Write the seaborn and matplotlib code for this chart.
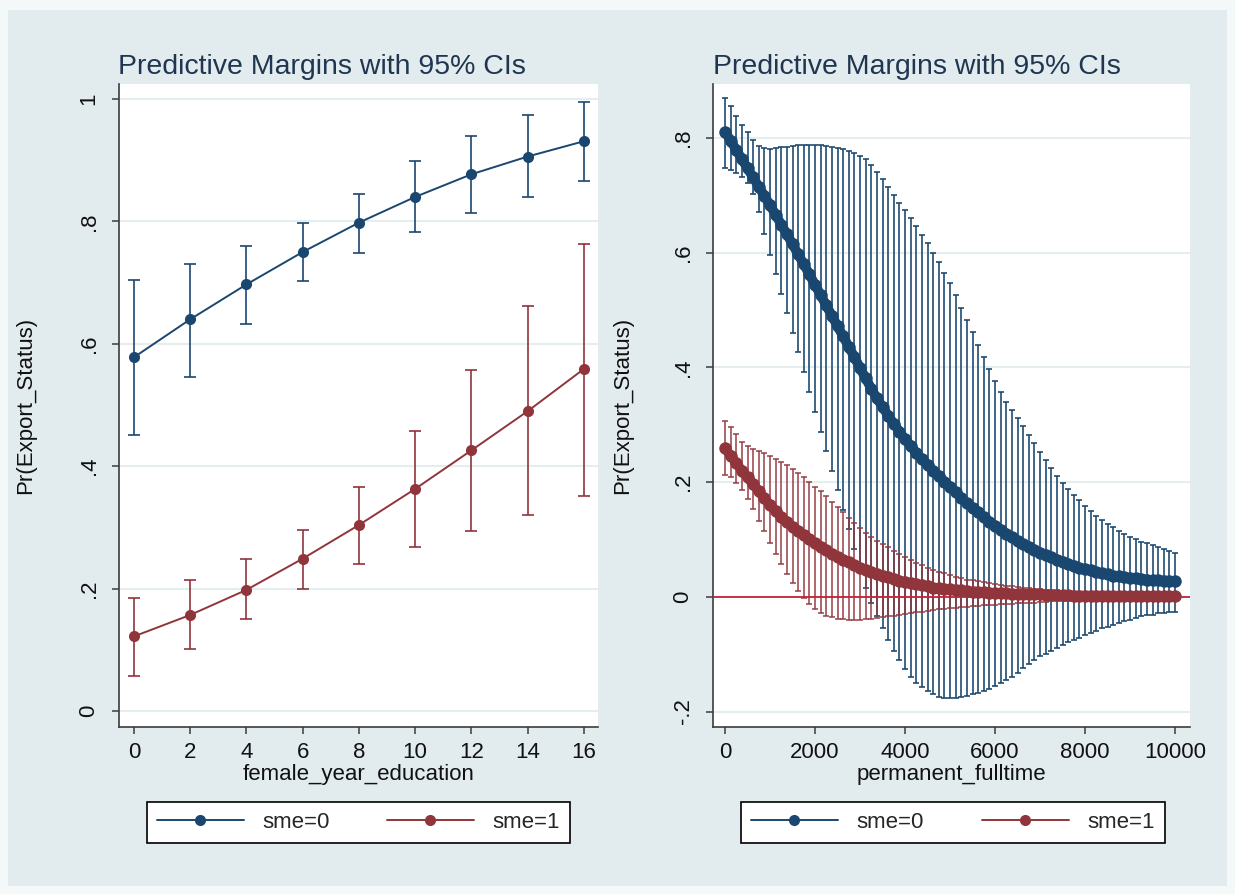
import matplotlib
matplotlib.use('Agg')
import matplotlib.pyplot as plt
from matplotlib.lines import Line2D
from matplotlib.patches import Rectangle
import numpy as np
import pandas as pd
import seaborn as sns

# left panel: margins over female_year_education
edu_years = [0, 2, 4, 6, 8, 10, 12, 14, 16]
edu_m0 = [.578, .640, .697, .750, .798, .840, .877, .906, .931]
edu_lo0 = [.451, .546, .632, .703, .749, .782, .813, .840, .866]
edu_hi0 = [.704, .731, .760, .797, .845, .898, .940, .974, .995]
edu_m1 = [.122, .157, .198, .249, .304, .363, .426, .490, .559]
edu_lo1 = [.058, .101, .151, .200, .240, .268, .295, .321, .352]
edu_hi1 = [.184, .214, .248, .296, .366, .457, .557, .661, .763]

# right panel: margins over permanent_fulltime (0 to 10000 by 125)
pft = list(range(0, 10001, 125))
pft_m0 = [.811, .795, .779, .763, .747, .731, .715, .699, .683,
          .666, .649, .632, .615, .597, .580, .562, .544,
          .526, .508, .490, .472, .454, .436, .418, .399,
          .381, .363, .346, .331, .316, .302, .288, .275,
          .263, .251, .240, .230, .220, .211, .201, .192,
          .182, .173, .163, .155, .147, .139, .131, .124,
          .117, .110, .104, .098, .092, .087, .082, .077,
          .073, .069, .065, .061, .057, .054, .051, .048,
          .046, .043, .041, .039, .037, .036, .034, .033,
          .032, .031, .030, .029, .029, .028, .028, .027]
pft_hi0 = [.870, .855, .838, .823, .811, .797, .786, .782, .781,
           .782, .784, .785, .786, .787, .788, .788, .788,
           .787, .786, .785, .783, .780, .777, .773, .769,
           .763, .752, .740, .728, .715, .701, .687, .674,
           .660, .647, .631, .616, .600, .583, .565, .547,
           .526, .504, .482, .461, .439, .418, .397, .376,
           .357, .339, .325, .311, .297, .282, .268, .253,
           .238, .224, .210, .199, .188, .178, .168, .158,
           .149, .141, .134, .127, .121, .115, .110, .105,
           .100, .096, .093, .090, .087, .084, .080, .077]
pft_lo0 = [.748, .744, .739, .732, .722, .702, .670, .632, .596,
           .562, .528, .494, .460, .426, .392, .357, .322,
           .288, .254, .220, .186, .152, .118, .084, .050,
           .016, -.010, -.033, -.055, -.076, -.094, -.111, -.126,
           -.139, -.150, -.158, -.165, -.170, -.174, -.176, -.177,
           -.177, -.175, -.173, -.170, -.167, -.164, -.160, -.155,
           -.150, -.145, -.139, -.132, -.125, -.118, -.111, -.104,
           -.099, -.094, -.089, -.084, -.079, -.075, -.071, -.067,
           -.063, -.059, -.055, -.052, -.049, -.046, -.043, -.040,
           -.037, -.034, -.032, -.031, -.029, -.028, -.027, -.026]
pft_m1 = [.259, .246, .233, .220, .208, .196, .184, .172, .160,
          .149, .139, .130, .122, .114, .107, .100, .093,
          .087, .081, .075, .070, .065, .060, .055, .051,
          .047, .043, .040, .037, .034, .031, .028, .026,
          .024, .022, .020, .018, .016, .015, .014, .013,
          .012, .011, .010, .009, .009, .008, .007, .007,
          .006, .006, .005, .005, .005, .004, .004, .004,
          .003, .003, .003, .003, .003, .002, .002, .002,
          .002, .002, .002, .002, .001, .001, .001, .001,
          .001, .001, .001, .001, .001, .001, .001, .001]
pft_hi1 = [.306, .296, .283, .270, .263, .258, .254, .250, .246,
           .241, .235, .229, .222, .215, .208, .200, .192,
           .184, .175, .165, .156, .147, .137, .128, .120,
           .112, .105, .098, .092, .086, .080, .074, .069,
           .064, .059, .055, .051, .047, .044, .041, .038,
           .035, .033, .030, .029, .027, .025, .024, .022,
           .021, .019, .018, .017, .016, .015, .014, .013,
           .012, .012, .011, .010, .010, .009, .009, .008,
           .008, .008, .007, .007, .007, .006, .006, .006,
           .006, .005, .005, .005, .005, .005, .004, .004]
pft_lo1 = [.212, .208, .199, .187, .171, .153, .133, .114, .094,
           .075, .057, .040, .024, .010, -.002, -.013, -.021,
           -.028, -.033, -.036, -.038, -.039, -.040, -.040, -.040,
           -.039, -.038, -.037, -.036, -.034, -.033, -.031, -.030,
           -.029, -.027, -.026, -.024, -.023, -.022, -.021, -.020,
           -.019, -.018, -.017, -.016, -.016, -.015, -.014, -.014,
           -.013, -.012, -.012, -.011, -.011, -.010, -.010, -.009,
           -.009, -.008, -.008, -.008, -.007, -.007, -.007, -.006,
           -.006, -.006, -.005, -.005, -.005, -.005, -.004, -.004,
           -.004, -.004, -.004, -.003, -.003, -.003, -.003, -.003]

groups = ['sme=0', 'sme=1']
NAVY = '#1a476f'
MAROON = '#90353b'
kolory = [NAVY, MAROON]
BG = '#e2ecee'

sns.set_style('white')
plt.rcParams['font.family'] = ['Liberation Sans', 'DejaVu Sans']

W, H = 1235, 894
fig = plt.figure(figsize=(W / 100, H / 100), dpi=100)
fig.patch.set_facecolor('#f4f8f9')
fig.add_artist(Rectangle((8 / W, 8 / H), 1219 / W, 876 / H, transform=fig.transFigure,
                         facecolor=BG, edgecolor='none', zorder=-10))

ax1 = fig.add_axes([119 / W, 167 / H, 479 / W, 643 / H])
ax2 = fig.add_axes([713 / W, 167 / H, 477 / W, 643 / H])


def rysuj(ax, x, serie, msize, lw, elw, caps, alfy):
    for i, (m, lo, hi) in enumerate(serie):
        m = np.array(m)
        ax.errorbar(x, m, yerr=[m - np.array(lo), np.array(hi) - m], fmt='none',
                    ecolor=kolory[i], elinewidth=elw, capsize=caps, capthick=elw,
                    alpha=alfy[i], zorder=2 + i)
    for i, (m, lo, hi) in enumerate(serie):
        df = pd.DataFrame({'x': x, 'y': m})
        sns.lineplot(data=df, x='x', y='y', color=kolory[i], marker='o',
                     markersize=msize, markeredgecolor=kolory[i], markeredgewidth=0,
                     linewidth=lw, ax=ax, zorder=5 + i)


rysuj(ax1, edu_years,
      [(edu_m0, edu_lo0, edu_hi0), (edu_m1, edu_lo1, edu_hi1)],
      8, 1.4, 1.2, 4, [1, 1])
rysuj(ax2, pft,
      [(pft_m0, pft_lo0, pft_hi0), (pft_m1, pft_lo1, pft_hi1)],
      9, 7, 1.3, 2.5, [0.9, 0.8])
ax2.axhline(0, color='#c8203a', lw=1.3, zorder=4)


def styl(ax, yticks, ylabels, ylim, xticks, xlim, xlabel, ylab_x):
    ax.set_facecolor('white')
    ax.set_ylim(*ylim)
    ax.set_xlim(*xlim)
    ax.set_yticks(yticks)
    ax.set_yticklabels(ylabels, rotation=90, va='center')
    ax.set_xticks(xticks)
    ax.set_xticklabels([str(t) for t in xticks])
    ax.yaxis.grid(True, color='#e6edef', lw=1.5)
    ax.xaxis.grid(False)
    ax.set_axisbelow(True)
    for s in ['top', 'right']:
        ax.spines[s].set_visible(False)
    for s in ['left', 'bottom']:
        ax.spines[s].set_color('#3c3c3c')
        ax.spines[s].set_linewidth(1.2)
    ax.tick_params(axis='both', direction='out', length=5, width=1.1, color='#3c3c3c',
                   labelsize=16, labelcolor='#111111')
    ax.tick_params(axis='y', pad=9, left=True)
    ax.tick_params(axis='x', pad=6, bottom=True)
    ax.set_xlabel(xlabel, fontsize=16, color='#111111')
    ax.set_ylabel('Pr(Export_Status)', fontsize=16, color='#111111')
    ax.xaxis.set_label_coords(0.5, -0.058)
    ax.yaxis.set_label_coords(ylab_x, 0.5)


styl(ax1, [0, .2, .4, .6, .8, 1], ['0', '.2', '.4', '.6', '.8', '1'], (-0.026, 1.0245),
     edu_years, (-0.53, 16.5), 'female_year_education', -0.174)
styl(ax2, [-.2, 0, .2, .4, .6, .8], ['-.2', '0', '.2', '.4', '.6', '.8'], (-0.227, 0.894),
     [0, 2000, 4000, 6000, 8000, 10000], (-267, 10333), 'permanent_fulltime', -0.168)

tytul = 'Predictive Margins with 95% CIs'
fig.text(322 / W, 1 - 67 / H, tytul, ha='center', va='center', fontsize=20.5, color='#1f3550')
fig.text(917 / W, 1 - 67 / H, tytul, ha='center', va='center', fontsize=20.5, color='#1f3550')

uchwyty = [Line2D([], [], color=k, lw=1.4, marker='o', markersize=8, markeredgewidth=0)
           for k in kolory]
for ax, x0, w in [(ax1, 0.0585, 0.883), (ax2, 0.0587, 0.889)]:
    leg = ax.legend(uchwyty, groups, loc='upper left', bbox_to_anchor=(x0, -0.1835, w, 0.0669),
                    mode='expand', ncol=2, fontsize=16, frameon=True, fancybox=False,
                    edgecolor='black', framealpha=1, borderaxespad=0, handlelength=3.9,
                    handletextpad=0.85, borderpad=0.45)
    leg.get_frame().set_linewidth(1.2)

fig.savefig('out.png', dpi=100, facecolor=fig.get_facecolor())
